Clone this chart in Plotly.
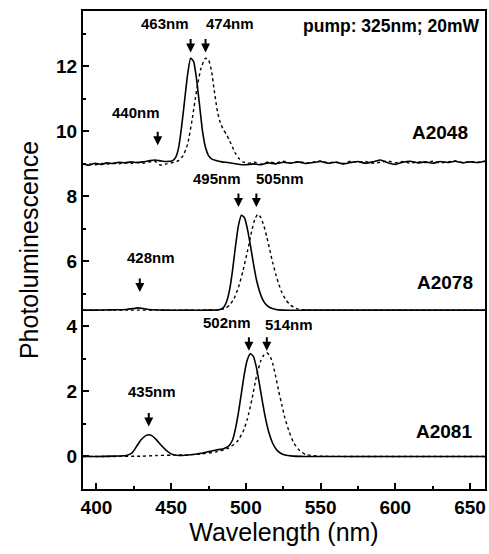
import plotly.graph_objects as go

# ---------------- data ----------------
a2048_solid_x = [391, 395, 399, 403, 407, 411, 415, 419, 423, 427, 431, 435, 439, 443, 447, 451, 453, 455, 457, 459,
                 461, 463, 465, 467, 469, 471, 473, 475, 477, 480, 484, 488, 492, 496, 500, 505, 510, 515, 520, 525,
                 530, 535, 540, 545, 550, 555, 560, 565, 570, 575, 580, 585, 590, 595, 600, 605, 610, 615, 620, 625,
                 630, 635, 640, 645, 650, 655, 660]
a2048_solid_y = [9.00, 8.96, 9.02, 8.98, 9.03, 9.01, 9.05, 9.03, 9.06, 9.04, 9.06, 9.09, 9.12, 9.09, 9.07, 9.10, 9.20, 9.50, 10.15, 10.95,
                 11.75, 12.25, 12.15, 11.6, 10.8, 10.0, 9.5, 9.25, 9.15, 9.10, 9.06, 9.04, 9.01, 8.98, 8.97, 9.00, 8.97, 9.03, 9.00, 9.05,
                 9.02, 9.06, 9.01, 9.04, 9.07, 9.02, 9.05, 9.00, 9.04, 9.07, 9.02, 9.06, 9.12, 9.03, 8.98, 9.05, 9.08, 9.03, 9.06, 9.02,
                 9.07, 9.04, 9.08, 9.03, 9.06, 9.04, 9.08]

a2048_dot_x = [391, 395, 399, 403, 407, 411, 415, 419, 423, 427, 431, 435, 439, 443, 447, 451, 455, 458, 461, 464,
               467, 470, 473, 475, 477, 479, 481, 483, 485, 487, 489, 491, 493, 495, 498, 502, 506, 510, 515, 520,
               525, 530, 535, 540, 545, 550, 555, 560, 565, 570, 575, 580, 585, 590, 595, 600, 605, 610, 615, 620,
               625, 630, 635, 640, 645, 650, 655, 660]
a2048_dot_y = [8.98, 9.00, 8.97, 9.01, 8.99, 9.02, 9.00, 9.03, 9.01, 9.04, 9.02, 9.05, 9.08, 8.96, 9.00, 9.04, 9.10, 9.25, 9.60, 10.35,
               11.25, 11.95, 12.25, 12.2, 11.85, 11.2, 10.6, 10.25, 10.05, 9.9, 9.72, 9.52, 9.32, 9.18, 9.06, 9.02, 9.05, 8.99, 9.06, 9.03,
               9.08, 9.02, 9.07, 9.03, 9.05, 9.09, 9.03, 9.06, 9.01, 9.08, 9.04, 9.07, 9.02, 9.05, 9.09, 9.03, 9.07, 9.02, 9.06, 9.04,
               9.08, 9.03, 9.06, 9.09, 9.04, 9.07, 9.05, 9.08]

a2078_solid_x = [391, 400, 410, 420, 425, 428, 431, 435, 445, 460, 475, 482, 485, 487, 489, 491, 493, 495, 497, 499,
                 501, 503, 505, 507, 509, 511, 513, 516, 520, 525, 540, 560, 580, 600, 620, 640, 660]
a2078_solid_y = [4.50, 4.50, 4.51, 4.52, 4.55, 4.57, 4.55, 4.52, 4.50, 4.50, 4.50, 4.51, 4.58, 4.75, 5.1, 5.7, 6.45, 7.1, 7.42, 7.35,
                 7.0, 6.5, 5.95, 5.45, 5.1, 4.85, 4.7, 4.58, 4.52, 4.50, 4.50, 4.50, 4.50, 4.50, 4.50, 4.50, 4.50]

a2078_dot_x = [391, 420, 450, 480, 486, 489, 492, 495, 498, 501, 504, 506, 508, 510, 512, 514, 516, 518, 520, 522,
               524, 527, 530, 535, 545, 560, 600, 660]
a2078_dot_y = [4.50, 4.50, 4.50, 4.51, 4.55, 4.65, 4.85, 5.2, 5.7, 6.3, 6.95, 7.3, 7.45, 7.35, 7.1, 6.75, 6.35, 5.95, 5.6, 5.3,
               5.05, 4.8, 4.65, 4.53, 4.50, 4.50, 4.50, 4.50]

a2081_solid_x = [391, 400, 410, 420, 424, 427, 430, 433, 435, 437, 440, 443, 446, 450, 455, 460, 465, 470, 475, 480,
                 485, 488, 491, 493, 495, 497, 499, 501, 503, 505, 507, 509, 511, 513, 515, 518, 521, 525, 530, 540,
                 560, 580, 600, 620, 640, 660]
a2081_solid_y = [0.00, 0.00, 0.01, 0.03, 0.12, 0.32, 0.52, 0.64, 0.67, 0.64, 0.52, 0.36, 0.22, 0.08, 0.03, 0.04, 0.06, 0.10, 0.15, 0.20,
                 0.24, 0.30, 0.50, 0.85, 1.35, 1.95, 2.55, 2.98, 3.16, 3.08, 2.75, 2.25, 1.7, 1.2, 0.8, 0.4, 0.18, 0.06, 0.02, 0.00,
                 0.00, 0.00, 0.00, 0.00, 0.00, 0.00]

a2081_dot_x = [391, 410, 430, 440, 450, 460, 470, 480, 488, 494, 498, 501, 504, 507, 510, 512, 514, 516, 518, 520,
               522, 524, 526, 529, 532, 536, 540, 550, 580, 620, 660]
a2081_dot_y = [0.00, 0.00, 0.01, 0.03, 0.04, 0.05, 0.08, 0.14, 0.25, 0.45, 0.75, 1.15, 1.75, 2.45, 2.95, 3.12, 3.19, 3.1, 2.85, 2.45,
               2.0, 1.6, 1.2, 0.75, 0.42, 0.18, 0.06, 0.01, 0.00, 0.00, 0.00]

# peak markers: label, arrow x (nm), arrow tip y, label x, label y
peak_labels = ["463nm", "474nm", "440nm", "495nm", "505nm", "428nm", "502nm", "514nm", "435nm"]
peak_arrow_x = [463, 473, 441, 495, 507, 429, 502, 514, 435]
peak_arrow_y = [12.42, 12.42, 9.57, 7.67, 7.67, 5.06, 3.25, 3.25, 0.92]
peak_label_x = [446, 489.3, 426.7, 480.7, 522.7, 436.7, 487.3, 528.7, 437.3]
peak_label_y = [13.31, 13.31, 10.58, 8.56, 8.56, 6.13, 4.11, 4.05, 1.99]

sample_names = ["A2048", "A2078", "A2081"]
sample_label_x = [630, 633, 632.7]
sample_label_y = [9.97, 5.34, 0.77]

pump_text = "pump: 325nm; 20mW"

x_ticks = [400, 450, 500, 550, 600, 650]
y_ticks = [0, 2, 4, 6, 8, 10, 12]

# ---------------- figure ----------------
FONT = "Liberation Sans, Arial, Helvetica, sans-serif"
fig = go.Figure()

curves = [
    (a2048_solid_x, a2048_solid_y, "solid"),
    (a2048_dot_x, a2048_dot_y, "dot"),
    (a2078_solid_x, a2078_solid_y, "solid"),
    (a2078_dot_x, a2078_dot_y, "dot"),
    (a2081_solid_x, a2081_solid_y, "solid"),
    (a2081_dot_x, a2081_dot_y, "dot"),
]
for xs, ys, dash in curves:
    fig.add_trace(go.Scatter(
        x=xs, y=ys, mode="lines",
        line=dict(color="black", width=1.6 if dash == "solid" else 1.4, dash=dash,
                  shape="spline", smoothing=0.5),
        showlegend=False, hoverinfo="skip"))

annotations = []
for lab, ax_, ay_, lx, ly in zip(peak_labels, peak_arrow_x, peak_arrow_y, peak_label_x, peak_label_y):
    annotations.append(dict(x=ax_, y=ay_, xref="x", yref="y", text="", showarrow=True,
                            arrowhead=2, arrowsize=0.9, arrowwidth=2, arrowcolor="black",
                            ax=0, ay=-15))
    annotations.append(dict(x=lx, y=ly, xref="x", yref="y", text=lab, showarrow=False,
                            font=dict(family=FONT, size=15, color="black", weight=700)))
for name, sx, sy in zip(sample_names, sample_label_x, sample_label_y):
    annotations.append(dict(x=sx, y=sy, xref="x", yref="y", text=name, showarrow=False,
                            font=dict(family=FONT, size=19, color="black", weight=700)))
annotations.append(dict(x=657, y=13.25, xref="x", yref="y", text=pump_text, showarrow=False,
                        xanchor="right", font=dict(family=FONT, size=17.5, color="black", weight=700)))

fig.update_layout(
    width=489, height=554,
    margin=dict(l=83, r=2, t=11, b=65),
    paper_bgcolor="white", plot_bgcolor="white",
    annotations=annotations,
    font=dict(family=FONT, color="black"),
)
fig.update_xaxes(
    range=[391, 660], tickvals=x_ticks, ticks="inside", ticklen=6, tickwidth=1.5, tickcolor="black",
    showline=True, linecolor="black", linewidth=2, mirror=True, showgrid=False, zeroline=False,
    tickfont=dict(family=FONT, size=19, color="black", weight=700),
    minor=dict(tickvals=[425, 475, 525, 575, 625], ticks="inside", ticklen=3, tickcolor="black"),
    title=dict(text="Wavelength (nm)", font=dict(family=FONT, size=25, color="black"), standoff=6),
)
fig.update_yaxes(
    range=[-1, 13.7], tickvals=y_ticks, ticks="inside", ticklen=6, tickwidth=1.5, tickcolor="black",
    showline=True, linecolor="black", linewidth=2, mirror=True, showgrid=False, zeroline=False,
    tickfont=dict(family=FONT, size=19, color="black", weight=700),
    minor=dict(dtick=1, ticks="inside", ticklen=3, tickcolor="black"),
    title=dict(text="Photoluminescence", font=dict(family=FONT, size=25, color="black"), standoff=10),
)

fig.write_html("out.html", config={"displayModeBar": False},
               post_script="document.body.style.margin='0';")
